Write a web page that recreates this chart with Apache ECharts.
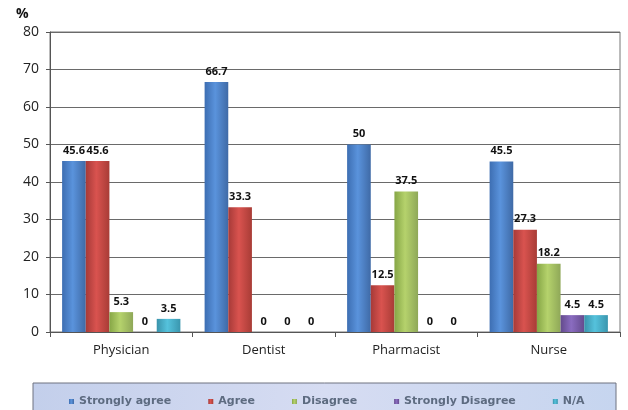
<!DOCTYPE html>
<html>
<head>
<meta charset="utf-8">
<script src="https://cdn.jsdelivr.net/npm/echarts@6/dist/echarts.min.js"></script>
<style>
  html, body { margin: 0; padding: 0; background: #fff; }
  #chart { width: 628px; height: 410px; }
</style>
</head>
<body>
<div id="chart"></div>
<script>
// Survey responses by profession (%)
const categories = ['Physician', 'Dentist', 'Pharmacist', 'Nurse'];
const seriesNames = ['Strongly agree', 'Agree', 'Disagree', 'Strongly Disagree', 'N/A'];
const stronglyAgree = [45.6, 66.7, 50, 45.5];
const agree = [45.6, 33.3, 12.5, 27.3];
const disagree = [5.3, 0, 37.5, 18.2];
const stronglyDisagree = [0, 0, 0, 4.5];
const notApplicable = [3.5, 0, 0, 4.5];
const yTicks = [0, 10, 20, 30, 40, 50, 60, 70, 80];

const values = [stronglyAgree, agree, disagree, stronglyDisagree, notApplicable];
// edge / centre / edge shades for each series
const shades = [
  ['#3d6eb2', '#5a93dc', '#3f6aa6'],
  ['#a63a38', '#d9534f', '#a83c36'],
  ['#86a646', '#b5d26c', '#8fa858'],
  ['#634a8c', '#8a6cc0', '#654b8e'],
  ['#3a93ab', '#55c2dc', '#3a96ae']
];
const legendColors = ['#4f81bd', '#c0504d', '#9bbb59', '#8064a2', '#4bacc6'];

function grad(s) {
  return new echarts.graphic.LinearGradient(0, 0, 1, 0, [
    { offset: 0, color: s[0] },
    { offset: 0.45, color: s[1] },
    { offset: 1, color: s[2] }
  ]);
}

const chart = echarts.init(document.getElementById('chart'), null, { renderer: 'canvas' });

const series = seriesNames.map((name, i) => ({
  name: name,
  type: 'bar',
  data: values[i],
  barGap: '0%',
  barCategoryGap: '17%',
  itemStyle: { color: grad(shades[i]) },
  label: {
    show: true,
    position: 'top',
    distance: 5,
    color: '#111',
    fontFamily: 'Open Sans',
    fontWeight: 'bold',
    fontSize: 11
  }
}));

chart.setOption({
  animation: false,
  backgroundColor: '#ffffff',
  color: legendColors,
  grid: {
    left: 50, right: 8, top: 32, bottom: 78,
    show: true, borderColor: '#777', borderWidth: 1
  },
  xAxis: {
    type: 'category',
    data: categories,
    axisLine: { lineStyle: { color: '#555' } },
    axisTick: { show: true, length: 5, lineStyle: { color: '#555' } },
    axisLabel: { color: '#222', fontFamily: 'Open Sans', fontSize: 13, margin: 12 }
  },
  yAxis: {
    type: 'value',
    min: yTicks[0],
    max: yTicks[yTicks.length - 1],
    interval: 10,
    axisLine: { show: true, lineStyle: { color: '#555' } },
    axisTick: { show: true, length: 4, lineStyle: { color: '#555' } },
    axisLabel: { color: '#222', fontFamily: 'Open Sans', fontSize: 14, margin: 11 },
    splitLine: { lineStyle: { color: '#6a6a6a', width: 1 } }
  },
  legend: {
    data: seriesNames,
    left: 64,
    top: 391,
    itemWidth: 5,
    itemHeight: 5,
    itemGap: 37,
    icon: 'rect',
    textStyle: {
      color: '#5d6b80',
      fontFamily: 'DejaVu Sans',
      fontWeight: 'bold',
      fontSize: 11,
      padding: [0, 0, 0, 0]
    }
  },
  graphic: [
    {
      type: 'rect',
      z: -1,
      shape: { x: 33, y: 383, width: 583, height: 30 },
      style: {
        fill: new echarts.graphic.LinearGradient(0, 0, 1, 1, [
          { offset: 0, color: '#c3cfeb' },
          { offset: 0.5, color: '#d6dcf2' },
          { offset: 1, color: '#c6d5ef' }
        ]),
        stroke: '#6f7280',
        lineWidth: 1
      }
    },
    {
      type: 'text',
      left: 16,
      top: 7,
      style: { text: '%', fill: '#111', font: 'bold 14px "Open Sans"' }
    }
  ],
  series: series
});
</script>
</body>
</html>
